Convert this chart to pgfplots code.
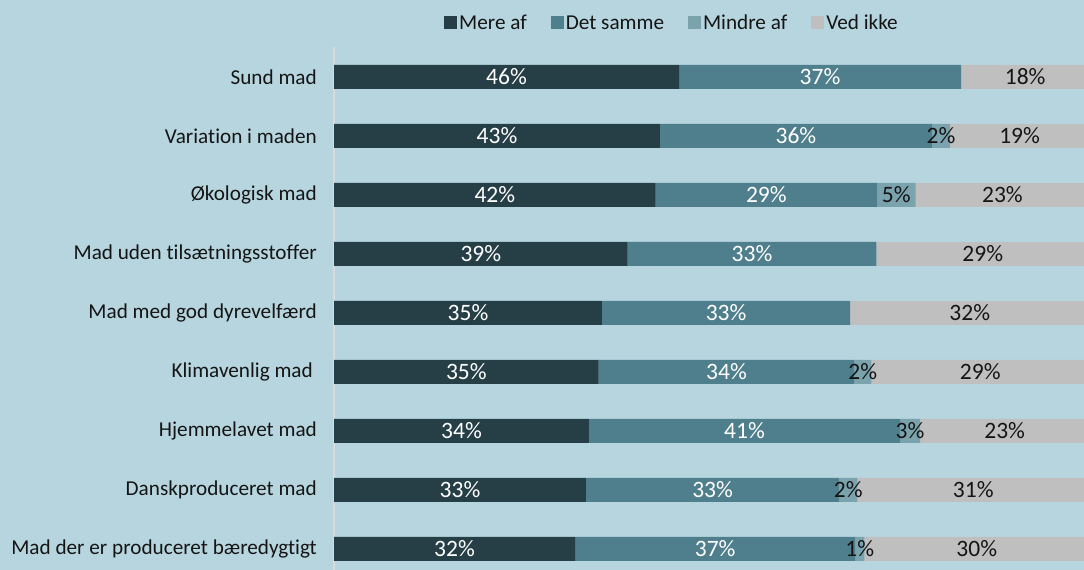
\documentclass[border=0pt]{standalone}
\usepackage{pgfplots}
\pgfplotsset{compat=1.18}
\usepackage{pgfplotstable}
\usepackage{fontspec}
\setmainfont{Carlito}[Ligatures={NoCommon}]
\definecolor{bgc}{HTML}{B6D5DF}
\definecolor{cmere}{HTML}{263F47}
\definecolor{csame}{HTML}{4F7F8C}
\definecolor{cmindre}{HTML}{7AA3AD}
\definecolor{cved}{HTML}{BFBFBF}
\definecolor{axl}{HTML}{DADADA}
\definecolor{txt}{HTML}{151515}

\pgfplotstableread{
y mere mereL same sameL mindre mindreL ved vedL
8 45.68 46 37.34 37 0.00 0 16.98 18
7 43.16 43 36.01 36 2.38 2 18.45 19
6 42.59 42 29.30 29 5.12 5 22.99 23
5 38.89 39 32.91 33 0.00 0 28.20 29
4 35.48 35 32.87 33 0.00 0 31.65 32
3 35.05 35 33.84 34 2.25 2 28.86 29
2 33.76 34 41.18 41 2.65 3 22.41 23
1 33.36 33 33.54 33 2.38 2 30.72 31
0 31.91 32 37.11 37 1.19 1 29.79 30
}\data

\begin{document}
\begin{tikzpicture}
\fill[bgc] (0,0) rectangle (1084bp,570bp);
\begin{axis}[
  at={(334bp,0)}, anchor=south west,
  scale only axis, width=759.06bp, height=523bp,
  xbar stacked, bar width=24bp,
  xmin=0, xmax=100.5, ymin=-0.356, ymax=8.508,
  axis x line=none,
  axis y line*=left,
  y axis line style={draw=axl, line width=2bp},
  ytick={0,...,8},
  yticklabels={Mad der er produceret bæredygtigt, Danskproduceret mad, Hjemmelavet mad, Klimavenlig mad\kern4bp, Mad med god dyrevelfærd, Mad uden tilsætningsstoffer, Økologisk mad, Variation i maden, Sund mad},
  major tick length=0pt,
  yticklabel style={font=\fontsize{21.2bp}{25bp}\selectfont, text=txt, inner sep=0pt, xshift=-17bp},
  point meta=explicit symbolic,
  nodes near coords={\ifnum\pgfplotspointmeta=0 \else\pgfplotspointmeta\%\fi},
  every node near coord/.append style={anchor=center, font=\fontsize{23.5bp}{27bp}\selectfont},
  legend columns=4,
  legend style={draw=none, fill=none, at={(0.4453,1.0459)}, anchor=center,
     font=\fontsize{21.2bp}{25bp}\selectfont, text=txt,
     /tikz/every even column/.append style={column sep=22bp},
     nodes={inner xsep=2bp}},
  legend image code/.code={\fill[#1] (0bp,-6.5bp) rectangle (13bp,6.5bp);},
]
\addplot[fill=cmere, draw=none, every node near coord/.append style={text=white}]
  table[x=mere, y=y, meta=mereL] {\data};
\addlegendentry{Mere af}
\addplot[fill=csame, draw=none, every node near coord/.append style={text=white}]
  table[x=same, y=y, meta=sameL] {\data};
\addlegendentry{Det samme}
\addplot[fill=cmindre, draw=none, every node near coord/.append style={text=txt}]
  table[x=mindre, y=y, meta=mindreL] {\data};
\addlegendentry{Mindre af}
\addplot[fill=cved, draw=none, every node near coord/.append style={text=txt}]
  table[x=ved, y=y, meta=vedL] {\data};
\addlegendentry{Ved ikke}
\end{axis}
\pgfresetboundingbox
\path (0,0) rectangle (1084bp,570bp);
\end{tikzpicture}
\end{document}
